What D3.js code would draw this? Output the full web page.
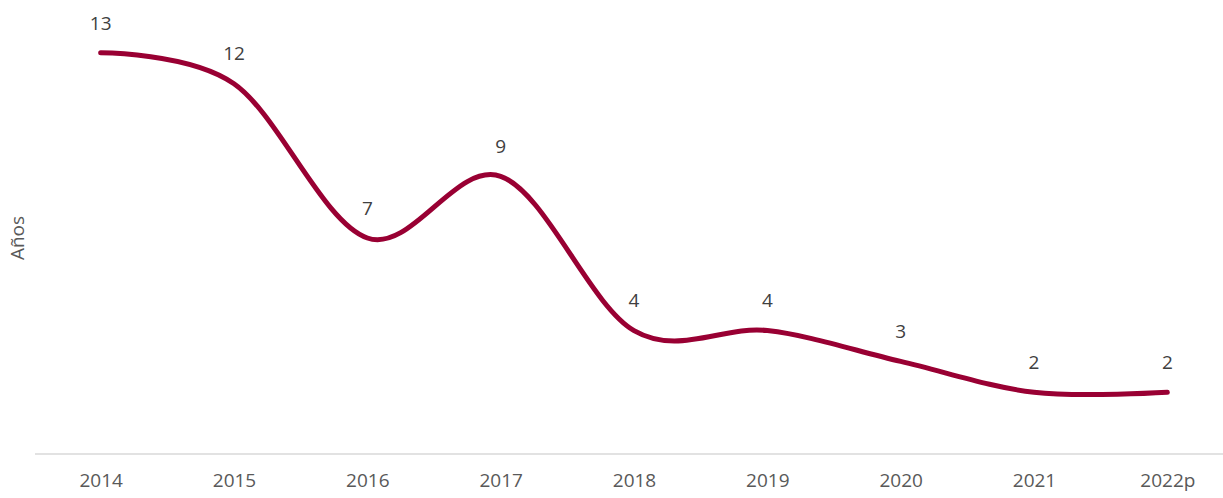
<!DOCTYPE html>
<html>
<head>
<meta charset="utf-8">
<script src="https://cdn.jsdelivr.net/npm/d3@7"></script>
<style>
  html, body { margin: 0; padding: 0; background: #fff; }
  svg { display: block; }
</style>
</head>
<body>
<svg id="chart" width="1223" height="498"></svg>
<script>
// Years on the horizontal axis
const years = ["2014", "2015", "2016", "2017", "2018", "2019", "2020", "2021", "2022p"];
// Values in years (Años)
const values = [13, 12, 7, 9, 4, 4, 3, 2, 2];
const yAxisTitle = "Años";

const width = 1223, height = 498;
const margin = { left: 34, right: -11, top: 22, bottom: 44 };
const font = "'Open Sans', 'Noto Sans', sans-serif";

const svg = d3.select("#chart");

const x = d3.scalePoint()
  .domain(years)
  .range([margin.left, width - margin.right])
  .padding(0.5);

const y = d3.scaleLinear()
  .domain([0, 14])
  .range([height - margin.bottom, margin.top]);

const data = years.map((yr, i) => ({ year: yr, value: values[i] }));

// Horizontal baseline
svg.append("line")
  .attr("x1", margin.left + 1)
  .attr("x2", width)
  .attr("y1", y(0))
  .attr("y2", y(0))
  .attr("stroke", "#d9d9d9")
  .attr("stroke-width", 1.5);

// Category axis labels
const xAxis = svg.append("g")
  .attr("transform", `translate(0,${y(0)})`)
  .call(d3.axisBottom(x).tickSize(0).tickPadding(20));
xAxis.select(".domain").remove();
xAxis.selectAll("text")
  .attr("font-family", font)
  .attr("font-size", 19)
  .attr("fill", "#595959");

// Vertical axis title
svg.append("text")
  .attr("transform", `translate(24,${(y(0) + y(14)) / 2}) rotate(-90)`)
  .attr("text-anchor", "middle")
  .attr("font-family", font)
  .attr("font-size", 19)
  .attr("fill", "#595959")
  .text(yAxisTitle);

// Smoothed line
const line = d3.line()
  .x(d => x(d.year))
  .y(d => y(d.value))
  .curve(d3.curveCatmullRom.alpha(0));

svg.append("path")
  .datum(data)
  .attr("d", line)
  .attr("fill", "none")
  .attr("stroke", "#990033")
  .attr("stroke-width", 5)
  .attr("stroke-linecap", "round")
  .attr("stroke-linejoin", "round");

// Value labels above each point
svg.append("g")
  .selectAll("text")
  .data(data)
  .join("text")
  .attr("x", d => x(d.year))
  .attr("y", d => y(d.value) - 30)
  .attr("dy", "0.35em")
  .attr("text-anchor", "middle")
  .attr("font-family", font)
  .attr("font-size", 19)
  .attr("fill", "#404040")
  .text(d => d3.format("d")(d.value));
</script>
</body>
</html>
